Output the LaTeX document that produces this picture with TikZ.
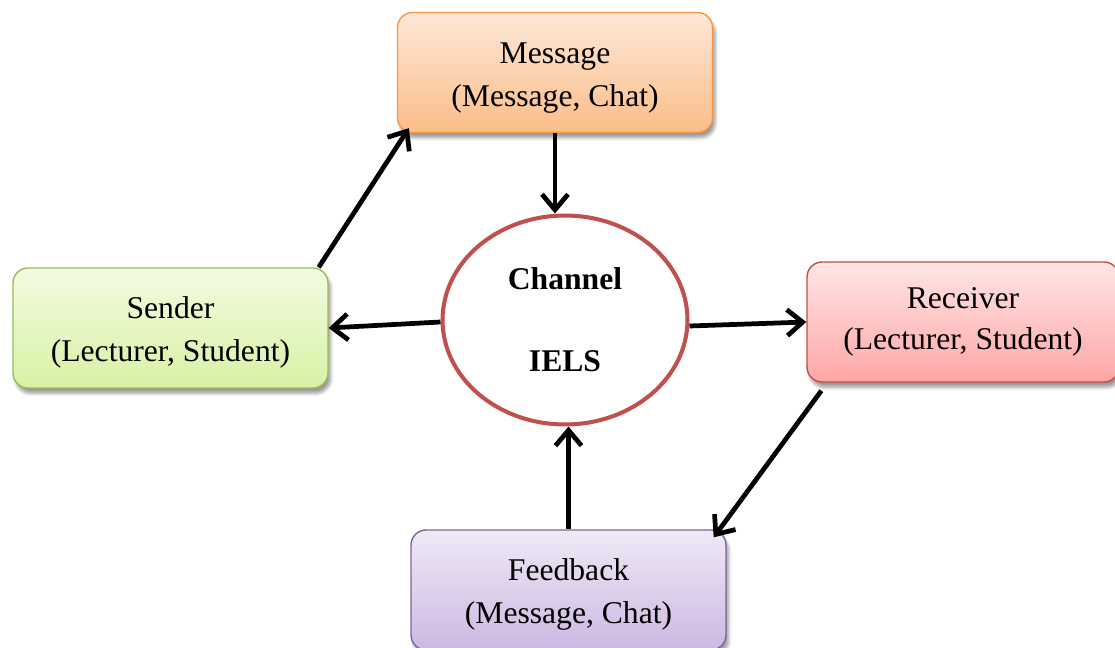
\documentclass[tikz,border=0pt]{standalone}
\usepackage{fontspec}
\setmainfont{Liberation Serif}
\usepackage{tikz}
\usetikzlibrary{calc}
\usetikzlibrary{arrows.meta}
\usetikzlibrary{shadows.blur}
\usetikzlibrary{shapes.geometric}
\definecolor{msgline}{HTML}{F79646}
\definecolor{msgtop}{HTML}{FEE8D8}
\definecolor{msgbot}{HTML}{FBBD88}
\definecolor{sndline}{HTML}{9BBB59}
\definecolor{sndtop}{HTML}{F3FBE2}
\definecolor{sndbot}{HTML}{D6F2A4}
\definecolor{rcvline}{HTML}{C0504D}
\definecolor{rcvtop}{HTML}{FFE6E6}
\definecolor{rcvbot}{HTML}{FFA6A6}
\definecolor{fbline}{HTML}{8064A2}
\definecolor{fbtop}{HTML}{EFE9F6}
\definecolor{fbbot}{HTML}{CDB8E2}
\newcommand{\toppad}{\rule{0pt}{18pt}}
\tikzset{box/.style={draw, line width=0.8pt, rounded corners=0.3cm, minimum width=6.3cm, minimum height=2.4cm, align=center, font=\fontsize{18}{24.5}\selectfont, blur shadow={shadow xshift=1.5pt, shadow yshift=-3pt, shadow blur steps=6}}}
\tikzset{flow/.style={line width=2.7pt, -{Straight Barb[length=3.1mm, width=5.2mm, line width=2.7pt]}}}

\begin{document}
\begin{tikzpicture}[x=0.02cm, y=-0.02cm]
    \useasboundingbox (0, 0) rectangle (1115, 648);
    \clip (0, 0) rectangle (1115, 648);

    \node [box, draw=msgline, top color=msgtop, bottom color=msgbot] (message) at (555, 72.5) {\toppad Message\\(Message, Chat)};
    \node [box, draw=sndline, top color=sndtop, bottom color=sndbot] (sender) at (170.5, 328) {\toppad Sender\\(Lecturer, Student)};
    \node [box, draw=rcvline, top color=rcvtop, bottom color=rcvbot, minimum width=6.24cm, font=\fontsize{18}{23}\selectfont] (receiver) at (963, 322) {Receiver\\(Lecturer, Student)};
    \node [box, draw=fbline, top color=fbtop, bottom color=fbbot] (feedback) at (568.5, 590) {\toppad Feedback\\(Message, Chat)};

    \node [ellipse, draw=rcvline, line width=2.3pt, fill=white, minimum width=4.9cm, minimum height=4.18cm, align=center, font=\fontsize{18}{24.5}\selectfont\bfseries] (channel) at (565, 320) {Channel\\[22pt]IELS};

    \draw [flow] ($(sender.north east)+(-10, 0)$) -- ($(message.south west)+(12, -5)$);
    \draw [flow] (message.south) -- (message.south |- channel.north);
    \draw [flow] ($(channel.west)+(0, 2)$) -- (sender.east);
    \draw [flow] ($(channel.east)+(0, 6)$) -- (receiver.west);
    \draw [flow] ($(receiver.south west)+(15, 8)$) -- ($(feedback.north east)+(-13, 8)$);
    \draw [flow] (feedback.north) -- (feedback.north |- channel.south);
\end{tikzpicture}
\end{document}
